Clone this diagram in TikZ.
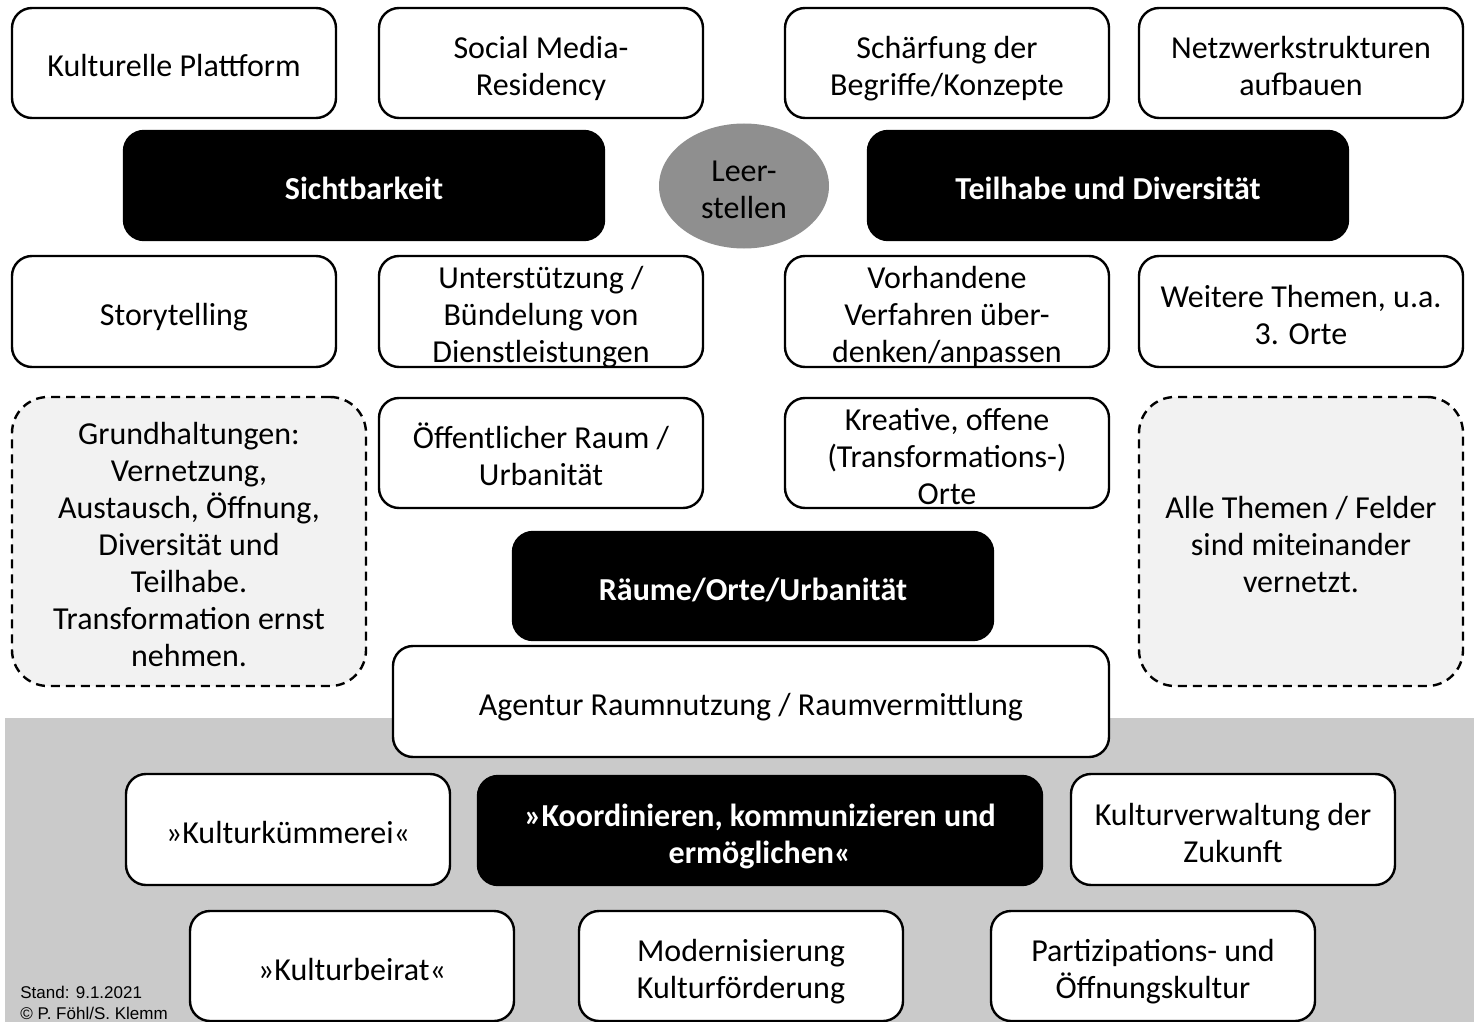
\documentclass[tikz,border=0pt]{standalone}
\usepackage{fontspec}
\setmainfont{Carlito}
\newfontfamily\standfont{Liberation Sans}
\usepackage{xcolor}
\usetikzlibrary{positioning,shapes.geometric}

\definecolor{bandgray}{HTML}{CACACA}
\definecolor{holegray}{HTML}{8F8F8F}
\definecolor{notefill}{HTML}{F2F2F2}

\tikzset{
  field/.style={draw=black, line width=1.2pt, fill=white, rounded corners=10pt,
    align=center, inner sep=0pt, font=\fontsize{16}{18.5}\selectfont,
    text height=18pt, text depth=4pt},
  twoline/.style={text height=36.5pt},
  threeline/.style={text height=51pt, text depth=0pt},
  keyfield/.style={field, fill=black, text=white, font=\fontsize{16}{18.5}\selectfont\bfseries},
  notefield/.style={field, fill=notefill, dash pattern=on 4.5pt off 3pt, rounded corners=18pt},
}

\begin{document}
\begin{tikzpicture}[x=0.5pt, y=-0.5pt, line join=round]
\useasboundingbox (0,0) rectangle (1484,1022);
% grey band behind the lower part
\fill[bandgray] (5,718) rectangle (1474,1022);

% top row
\node[field, minimum width=162pt, minimum height=55pt] (plattform) at (174,63) {Kulturelle Plattform};
\node[field, twoline, minimum width=162pt, minimum height=55pt] (residency) at (541,63) {Social Media-\\Residency};
\node[field, twoline, minimum width=162pt, minimum height=55pt] (begriffe) at (947,63) {Schärfung der\\Begriffe/Konzepte};
\node[field, twoline, minimum width=162pt, minimum height=55pt] (netzwerk) at (1301,63) {Netzwerkstrukturen\\aufbauen};

% main fields
\node[keyfield, minimum width=240pt, minimum height=54.5pt] (sicht) at (364,185.5) {Sichtbarkeit};
\node[keyfield, minimum width=240pt, minimum height=54.5pt] (teilhabe) at (1108,185.5) {Teilhabe und Diversität};
\node[ellipse, fill=holegray, minimum width=85pt, minimum height=62.5pt, inner sep=0pt,
  align=center, font=\fontsize{16}{18.5}\selectfont,
  text height=36.5pt, text depth=4pt] (leer) at (744,186) {Leer-\\stellen};

% second row
\node[field, minimum width=162pt, minimum height=55.5pt] (story) at (174,311.5) {Storytelling};
\node[field, threeline, minimum width=162pt, minimum height=55.5pt] (dienst) at (541,311.5) {Unterstützung /\\Bündelung von\\Dienstleistungen};
\node[field, threeline, minimum width=162pt, minimum height=55.5pt] (verfahren) at (947,311.5) {Vorhandene\\Verfahren über-\\denken/anpassen};
\node[field, twoline, minimum width=162pt, minimum height=55.5pt] (themen) at (1301,311.5) {Weitere Themen, u.a.\\3. Orte};

% third row
\node[field, twoline, minimum width=162pt, minimum height=55pt] (raum) at (541,453) {Öffentlicher Raum /\\Urbanität};
\node[field, threeline, minimum width=162pt, minimum height=55pt] (orte) at (947,453) {Kreative, offene\\(Transformations-)\\Orte};

% dashed notes
\node[notefield, text height=129pt, minimum width=177pt, minimum height=144.5pt] (haltung) at (189,541.5)
  {Grundhaltungen:\\Vernetzung,\\Austausch, Öffnung,\\Diversität und\\Teilhabe.\\Transformation ernst\\nehmen.};
\node[notefield, threeline, minimum width=162pt, minimum height=144.5pt] (vernetzt) at (1301,541.5)
  {Alle Themen / Felder\\sind miteinander\\vernetzt.};

\node[keyfield, minimum width=240pt, minimum height=54pt] (urban) at (753,586) {Räume/Orte/Urbanität};
\node[field, minimum width=358pt, minimum height=55.5pt] (agentur) at (751,701.5) {Agentur Raumnutzung / Raumvermittlung};

% lower band
\node[field, minimum width=162pt, minimum height=55.5pt] (kuemmerei) at (288,829.5) {»Kulturkümmerei«};
\node[keyfield, twoline, minimum width=282pt, minimum height=54.5pt] (koord) at (760,830.5) {»Koordinieren, kommunizieren und\\ermöglichen«};
\node[field, twoline, minimum width=162pt, minimum height=55.5pt] (verwaltung) at (1233,829.5) {Kulturverwaltung der\\Zukunft};

\node[field, minimum width=162pt, minimum height=55pt] (beirat) at (352,966) {»Kulturbeirat«};
\node[field, twoline, minimum width=162pt, minimum height=55pt] (foerderung) at (741,966) {Modernisierung\\Kulturförderung};
\node[field, twoline, minimum width=162pt, minimum height=55pt] (partizipation) at (1153,966) {Partizipations- und\\Öffnungskultur};

\node[anchor=north west, align=left, inner sep=0pt, font=\standfont\fontsize{8.5}{10.5}\selectfont] (stand) at (20,986)
  {Stand: 9.1.2021\\© P. Föhl/S. Klemm};
\end{tikzpicture}
\end{document}
